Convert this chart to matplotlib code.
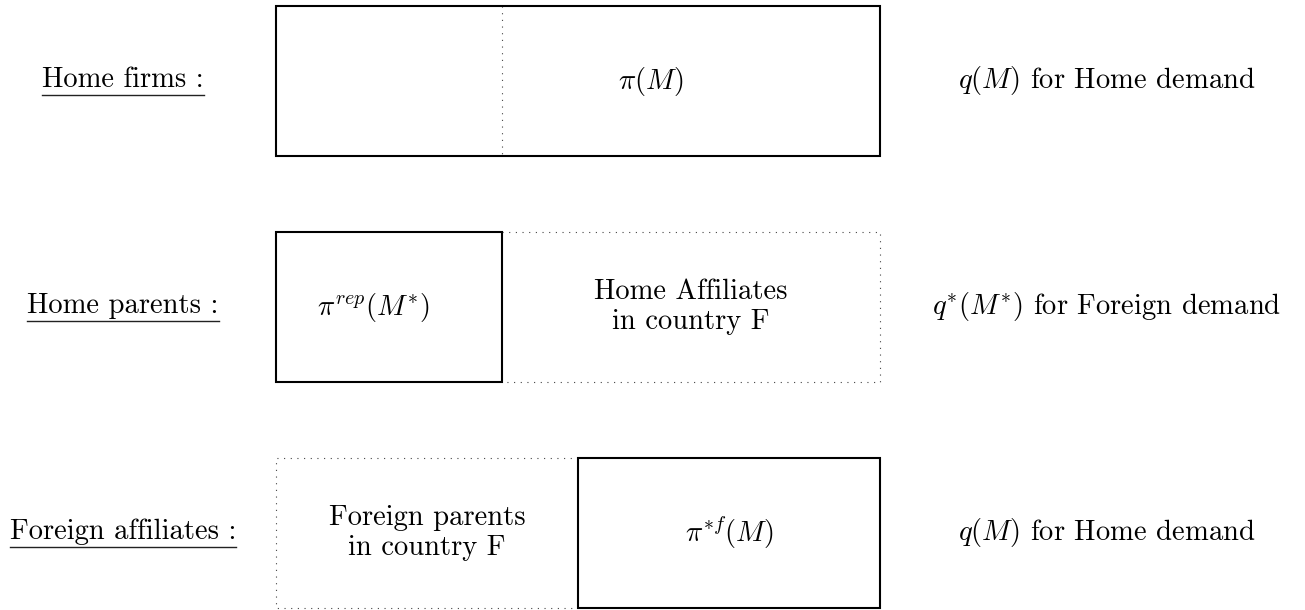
import matplotlib
matplotlib.use('Agg')
import matplotlib.pyplot as plt
from matplotlib.patches import Rectangle

plt.rcParams['font.family'] = 'serif'
plt.rcParams['font.serif'] = ['cmr10']
plt.rcParams['mathtext.fontset'] = 'cm'
plt.rcParams['axes.formatter.use_mathtext'] = True

# contenido del diagrama
row_labels = ['Home firms :', 'Home parents :', 'Foreign affiliates :']
demand_labels = [r'$q(M)$ for Home demand',
                 r'$q^{*}(M^{*})$ for Foreign demand',
                 r'$q(M)$ for Home demand']
profit_labels = [r'$\pi(M)$', r'$\pi^{rep}(M^{*})$', r'$\pi^{*f}(M)$']
other_labels = ['', 'Home Affiliates\nin country F', 'Foreign parents\nin country F']

# geometria (pixeles)
box_left, box_right = 276, 880
row_tops = [6, 232, 458]
box_h = 150
splits = [502, 502, 578]
profit_x = [651, 373, 729]
label_x = 123
demand_x = 1107
fs = 20.6

fig = plt.figure(figsize=(13.05, 6.10), dpi=100)
ax = fig.add_axes([0, 0, 1, 1])
ax.set_xlim(0, 1305)
ax.set_ylim(610, 0)
ax.axis('off')

solid = dict(fill=False, lw=1.5, ec='black', zorder=3)
dotted = dict(color='#444444', lw=0.8, linestyle=(0, (1, 5)), zorder=2)

# fila 1: una sola caja con linea punteada
top = row_tops[0]
ax.add_patch(Rectangle((box_left, top), box_right - box_left, box_h, **solid))
ax.plot([splits[0], splits[0]], [top, top + box_h], **dotted)

# fila 2: caja solida a la izquierda, punteada a la derecha
top = row_tops[1]
ax.add_patch(Rectangle((box_left, top), splits[1] - box_left, box_h, **solid))
ax.plot([splits[1], box_right, box_right, splits[1]],
        [top, top, top + box_h, top + box_h], **dotted)

# fila 3: punteada a la izquierda, solida a la derecha
top = row_tops[2]
ax.add_patch(Rectangle((splits[2], top), box_right - splits[2], box_h, **solid))
ax.plot([splits[2], box_left, box_left, splits[2]],
        [top, top, top + box_h, top + box_h], **dotted)

texts = []
for i in range(3):
    yc = row_tops[i] + box_h / 2
    t = ax.text(label_x, yc + 6, row_labels[i], fontsize=fs, ha='center', va='baseline')
    texts.append(t)
    ax.text(demand_x, yc + 7, demand_labels[i], fontsize=fs, ha='center', va='baseline')
    ax.text(profit_x[i], yc, profit_labels[i], fontsize=fs, ha='center', va='center')

# textos de dos lineas
yc = row_tops[1] + box_h / 2
ax.text((splits[1] + box_right) / 2, yc, other_labels[1], fontsize=fs,
        ha='center', va='center', multialignment='center', linespacing=1.15)
yc = row_tops[2] + box_h / 2
ax.text((box_left + splits[2]) / 2, yc, other_labels[2], fontsize=fs,
        ha='center', va='center', multialignment='center', linespacing=1.15)

# subrayado de las etiquetas
fig.canvas.draw()
r = fig.canvas.get_renderer()
inv = ax.transData.inverted()
for t in texts:
    bb = t.get_window_extent(renderer=r)
    (x0, y0), (x1, y1) = inv.transform([(bb.x0, bb.y0), (bb.x1, bb.y1)])
    ax.plot([x0, x1], [y0 + 2, y0 + 2], color='#222222', lw=1.0)

fig.savefig('out.png', dpi=100)
